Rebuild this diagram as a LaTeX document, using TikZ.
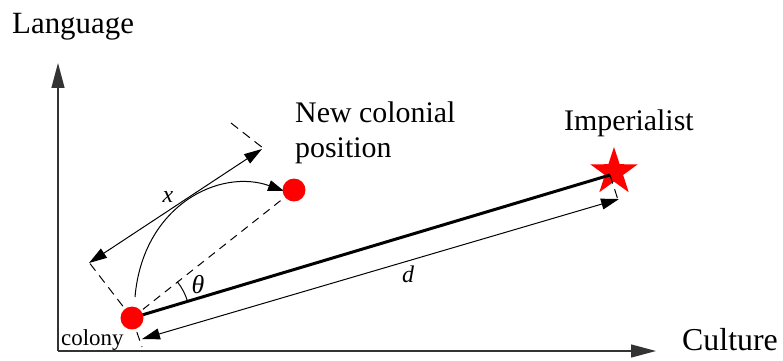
\documentclass[tikz,border=0pt]{standalone}
\usepackage{fontspec}
\setmainfont{Liberation Serif}
\usetikzlibrary{arrows.meta}
\begin{document}
\begin{tikzpicture}[x=1bp,y=-1bp,
  axis/.style={line width=1.3pt,black!80,-{Triangle[length=25pt,width=13pt]}},
  dim/.style={line width=1pt,black,{Triangle[length=18pt,width=11pt]}-{Triangle[length=18pt,width=11pt]}},
  ext/.style={line width=1pt,black,dash pattern=on 9pt off 6pt},
  dot/.style={circle,fill=red,minimum size=23pt,inner sep=0pt},
  lbl/.style={inner sep=0pt,anchor=base west},
  big/.style={font=\fontsize{30}{35}\selectfont},
  sym/.style={inner sep=0pt,font=\fontsize{24}{28}\selectfont\itshape}]
\useasboundingbox (0,0) rectangle (783,360);
% coordinates
\coordinate (O) at (58,351);
\coordinate (Ytip) at (58,63);
\coordinate (Xtip) at (656,351);
\coordinate (C) at (132,318);
\coordinate (N) at (294,190);
\coordinate (S) at (614,172);
\coordinate (E1) at (610,175);
\coordinate (E2) at (619,203);
\coordinate (D1) at (142,339);
\coordinate (D2) at (619,199);
\coordinate (Cb) at (142,347);
\coordinate (X1) at (89,263);
\coordinate (X2) at (262,149);
\coordinate (XL) at (88,261);
\coordinate (XU1) at (231,123);
\coordinate (XU2) at (263,148);
\coordinate (Cs) at (135,297);
\coordinate (Ne) at (284,191);
% star
\fill[red] ([shift={(-90:25)}]S) -- ([shift={(-54:9.6)}]S) -- ([shift={(-18:25)}]S)
  -- ([shift={(18:9.6)}]S) -- ([shift={(54:25)}]S) -- ([shift={(90:9.6)}]S)
  -- ([shift={(126:25)}]S) -- ([shift={(162:9.6)}]S) -- ([shift={(198:25)}]S)
  -- ([shift={(234:9.6)}]S) -- cycle;
% axes
\draw[axis] (O) -- (Ytip);
\draw[axis] (O) -- (Xtip);
% main line
\draw[line width=3pt] (C) -- (E1);
% dashed line to new position
\draw[ext,dash pattern=on 8pt off 6pt] (C) -- (N);
% extension lines
\draw[ext] (C) -- (XL);
\draw[ext] (XU1) -- (XU2);
\draw[ext] (C) -- (Cb);
\draw[ext] (E1) -- (E2);
% dimension arrows
\draw[dim] (X1) -- (X2);
\draw[dim] (D1) -- (D2);
% curved arrow
\draw[line width=1pt,-{Triangle[length=16pt,width=11pt]}] (Cs) .. controls (143,205) and (220,168) .. (Ne);
% angle arc
\draw[line width=1pt] (C) ++(-16.6:58) arc[start angle=-16.6,end angle=-38.5,radius=58] coordinate (Aend);
% dots
\node[dot] (Cdot) at (C) {};
\node[dot] (Ndot) at (N) {};
% labels
\node[lbl,font=\fontsize{31}{35}\selectfont] (lang) at (12,33) {Language};
\node[lbl,font=\fontsize{32}{35}\selectfont] (cult) at (682,350) {Culture};
\node[inner sep=0pt,anchor=north west,align=left,big] (newpos) at (295,102) {New colonial\\position};
\node[lbl,big] (imp) at (564,130) {Imperialist};
\node[lbl,font=\fontsize{23}{27}\selectfont] (col) at (61,345) {colony};
\node[sym] (xl) at (168,197) {x};
\node[sym,font=\fontsize{26}{28}\selectfont\itshape] (th) at (198,285) {θ};
\node[sym] (dl) at (408,274) {d};
\end{tikzpicture}
\end{document}
